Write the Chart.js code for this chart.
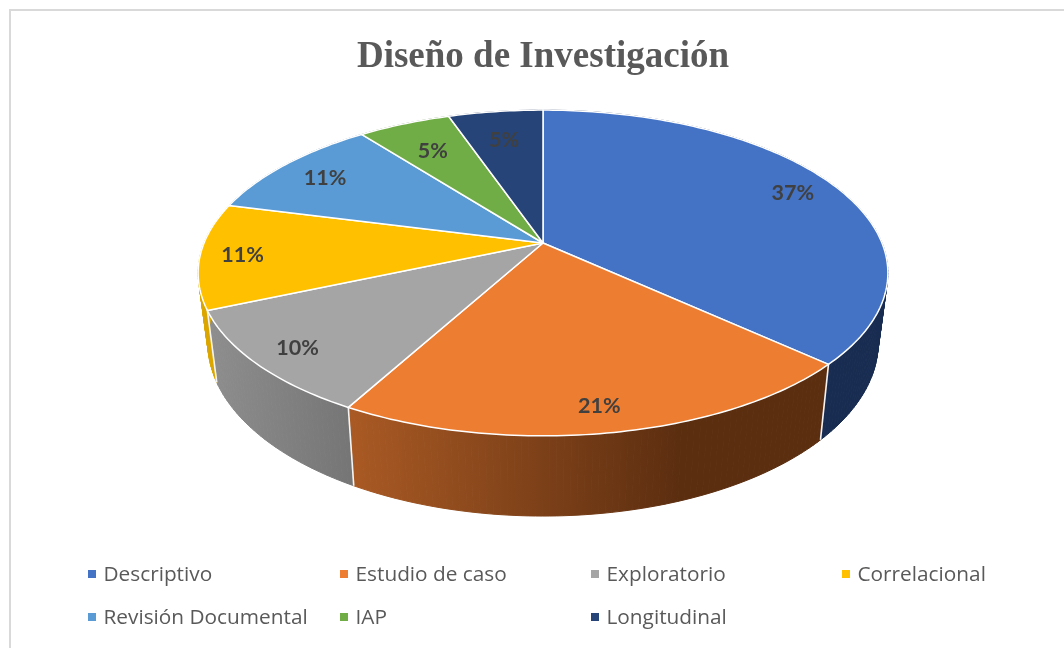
<!DOCTYPE html>
<html lang="es">
<head>
<meta charset="utf-8">
<title>Diseño de Investigación</title>
<script src="https://cdn.jsdelivr.net/npm/chart.js@4"></script>
<style>
html,body{margin:0;padding:0;background:#fff;overflow:hidden;width:1064px;height:648px}
#frame{position:absolute;left:9px;top:9px;width:1060px;height:650px;border-left:2px solid #d9d9d9;border-top:2px solid #d9d9d9;box-sizing:border-box}
canvas{position:absolute;left:0;top:0}
</style>
</head>
<body>
<div id="frame"></div>
<canvas id="c" width="1064" height="648"></canvas>
<script>
const chartTitle = 'Diseño de Investigación';
const categories = ['Descriptivo','Estudio de caso','Exploratorio','Correlacional','Revisión Documental','IAP','Longitudinal'];
const percentages = [36.8,21.2,10.5,10.5,10.5,5.2,5.3];
const sliceColors = ['#4472C4','#ED7D31','#A5A5A5','#FFC000','#5B9BD5','#70AD47','#264478'];
const sideColors = [['#182C51','#182C51'],['#AA5A24','#5C2E10'],['#8E8E8E','#767676'],['#DCA600','#DCA600'],['#3A6A96','#3A6A96'],['#4E7A32','#4E7A32'],['#182C51','#182C51']];
const shownLabels = ['37%','21%','10%','11%','11%','5%','5%'];

const TILT = {sx:2.072, sy:0.962, k:-0.184, shrink:0.972, depth:72, depthRef:310, depthGrow:0.065};
const labelRadius = [0.86,0.875,0.87,0.875,0.83,0.76,0.77];
const legendCols = [88,340,591,842], legendRows = [575,618];

function project(el, r, theta){
  const u = r*Math.sin(theta), v = -r*Math.cos(theta), w = 1 + TILT.k*v, R = el.outerRadius;
  return {x: el.x + R*TILT.sx*u/w, y: el.y + R*TILT.sy*v/w};
}
function lower(el, p){
  return {x: el.x + (p.x-el.x)*TILT.shrink, y: p.y + TILT.depth + (p.y-TILT.depthRef)*TILT.depthGrow};
}
const tilted = {
  id:'tilted',
  beforeDatasetDraw(chart, args){
    const ctx = chart.ctx, arcs = args.meta.data, STEP = Math.PI/180;
    const thetas = el => {
      const a = el.startAngle + Math.PI/2, b = el.endAngle + Math.PI/2, n = Math.max(2, Math.ceil((b-a)/STEP)), t = [];
      for (let i=0;i<=n;i++) t.push(a+(b-a)*i/n);
      return t;
    };
    ctx.save();
    // side wall
    arcs.forEach((el,i)=>{
      const ts = thetas(el), pts = ts.map(t=>project(el,1,t));
      const xs = pts.map(p=>p.x), g = ctx.createLinearGradient(Math.min(...xs),0,Math.min(Math.max(...xs),Math.min(...xs)+330),0);
      g.addColorStop(0,sideColors[i][0]); g.addColorStop(1,sideColors[i][1]);
      ctx.fillStyle = g; ctx.strokeStyle = g; ctx.lineWidth = 1;
      for (let j=0;j<pts.length-1;j++){
        const a=pts[j], b=pts[j+1], c=lower(el,b), d=lower(el,a);
        ctx.beginPath(); ctx.moveTo(a.x,a.y); ctx.lineTo(b.x,b.y); ctx.lineTo(c.x,c.y); ctx.lineTo(d.x,d.y); ctx.closePath();
        ctx.fill(); ctx.stroke();
      }
    });
    arcs.forEach(el=>{
      const a = project(el,1,el.startAngle+Math.PI/2), d = lower(el,a);
      ctx.strokeStyle='#f4f4f4'; ctx.lineWidth=1.6;
      ctx.beginPath(); ctx.moveTo(a.x,a.y); ctx.lineTo(d.x,d.y); ctx.stroke();
    });
    // top face
    arcs.forEach(el=>{
      ctx.beginPath(); ctx.moveTo(el.x,el.y);
      thetas(el).forEach(t=>{const p=project(el,1,t); ctx.lineTo(p.x,p.y);});
      ctx.closePath();
      ctx.fillStyle = el.options.backgroundColor; ctx.fill();
      ctx.strokeStyle='#ffffff'; ctx.lineWidth=1.5; ctx.lineJoin='round'; ctx.stroke();
    });
    // value labels
    ctx.font='bold 21.5px Lato'; ctx.fillStyle='#404040'; ctx.textAlign='center'; ctx.textBaseline='middle';
    arcs.forEach((el,i)=>{
      const p = project(el,labelRadius[i],(el.startAngle+el.endAngle)/2+Math.PI/2);
      ctx.fillText(shownLabels[i],p.x-1,p.y+1.5);
    });
    ctx.restore();
    return false;
  },
  afterDraw(chart){
    const ctx = chart.ctx;
    ctx.save();
    ctx.font='20.8px "Open Sans"'; ctx.textAlign='left'; ctx.textBaseline='middle';
    chart.data.labels.forEach((name,i)=>{
      const x = legendCols[i%4], y = legendRows[Math.floor(i/4)];
      ctx.fillStyle = sliceColors[i]; ctx.fillRect(x,y-5,8,8);
      ctx.fillStyle = '#595959'; ctx.fillText(name,x+15.5,y);
    });
    ctx.restore();
  }
};
new Chart(document.getElementById('c'),{
  type:'pie',
  data:{labels:categories,datasets:[{data:percentages,backgroundColor:sliceColors,borderWidth:0,hoverOffset:0}]},
  options:{
    responsive:false,animation:false,
    layout:{padding:{left:22,right:0,top:0,bottom:241.4}},
    plugins:{
      legend:{display:false},tooltip:{enabled:false},
      title:{display:true,text:chartTitle,color:'#595959',font:{family:'"Liberation Serif"',size:37,weight:'bold',lineHeight:1.2},padding:{top:35,bottom:0}}
    }
  },
  plugins:[tilted]
});
</script>
</body>
</html>
